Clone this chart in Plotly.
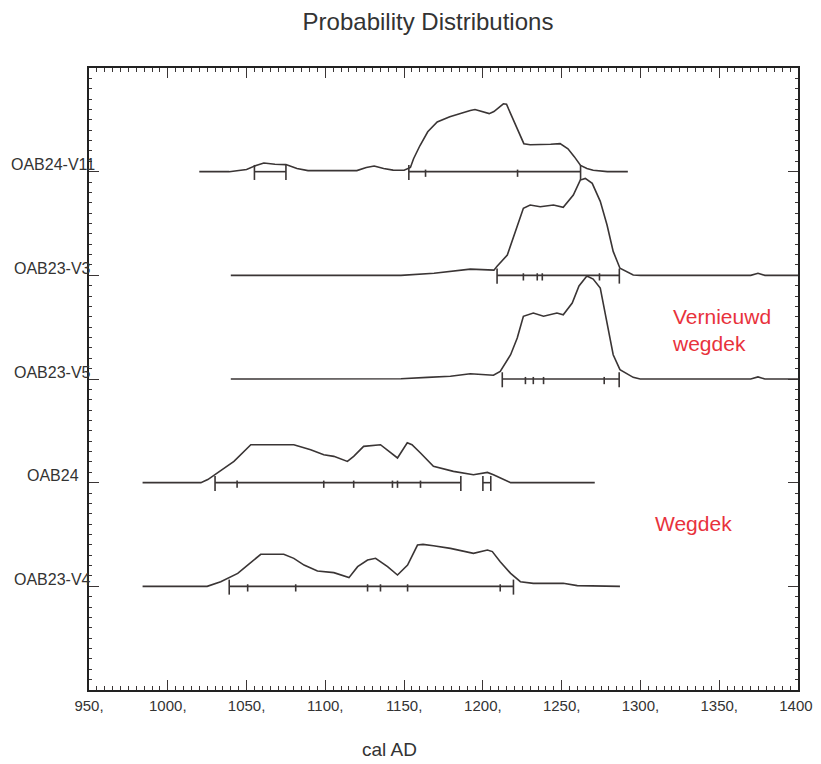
import plotly.graph_objects as go

# ---------------- data ----------------
samples = ["OAB23-V4", "OAB24", "OAB23-V5", "OAB23-V3", "OAB24-V11"]  # bottom -> top
row_pos = [1, 2, 3, 4, 5]

# probability curves: year, relative height (fraction of row spacing)
v11_years = [1020, 1039, 1050, 1056, 1061, 1068, 1075, 1082, 1089, 1120, 1126, 1131, 1137, 1143,
             1150, 1154, 1156, 1160, 1165, 1171, 1179, 1185, 1192, 1195, 1200, 1204, 1207, 1211,
             1213, 1215, 1221, 1226, 1230, 1236, 1243, 1249, 1254, 1258, 1262, 1266, 1270, 1279, 1292]
v11_prob = [0, 0, 0.02, 0.06, 0.084, 0.072, 0.068, 0.03, 0.01, 0.01, 0.04, 0.055, 0.03, 0.015,
            0.013, 0.04, 0.125, 0.25, 0.385, 0.48, 0.53, 0.56, 0.59, 0.60, 0.58, 0.56, 0.58, 0.63,
            0.655, 0.65, 0.445, 0.27, 0.26, 0.26, 0.265, 0.27, 0.22, 0.145, 0.06, 0.03, 0.013, 0, 0]

v3_years = [1040, 1148, 1169, 1192, 1207, 1209, 1215.5, 1220.6, 1225.7, 1230, 1236.4, 1244.8, 1251,
            1257.4, 1261.8, 1265, 1269.4, 1274.5, 1278.8, 1282.7, 1287, 1295.4, 1300, 1370, 1374.6,
            1379, 1400]
v3_prob = [0, 0, 0.02, 0.06, 0.05, 0.087, 0.196, 0.424, 0.646, 0.678, 0.662, 0.678, 0.656,
           0.774, 0.919, 0.935, 0.887, 0.714, 0.485, 0.231, 0.068, 0.003, 0, 0, 0.02,
           0, 0]

v5_years = [1040, 1148, 1164.8, 1179.4, 1192, 1206.7, 1211, 1217.6, 1221.8, 1225.7, 1232, 1238.5,
            1247, 1251, 1256.7, 1261, 1266, 1270, 1274.5, 1278.8, 1282.7, 1287, 1295.4, 1299.8,
            1370, 1374.6, 1379, 1400]
v5_prob = [0, 0.003, 0.016, 0.026, 0.051, 0.036, 0.074, 0.234, 0.395, 0.605, 0.636, 0.605,
           0.636, 0.62, 0.733, 0.897, 0.993, 0.964, 0.878, 0.559, 0.234, 0.09, 0.016, 0,
           0, 0.02, 0, 0]

oab24_years = [984, 1021, 1025.4, 1031.7, 1042, 1052.7, 1080, 1090.7, 1099, 1105.4, 1114, 1118,
               1124.3, 1135, 1145.8, 1152, 1155, 1160.4, 1168.6, 1181.3, 1194, 1202.9, 1206.7,
               1217.6, 1271]
oab24_prob = [0, 0, 0.03, 0.094, 0.205, 0.366, 0.366, 0.318, 0.27, 0.254, 0.205, 0.254,
              0.35, 0.366, 0.238, 0.385, 0.366, 0.286, 0.157, 0.109, 0.077, 0.099, 0.077,
              0, 0]

v4_years = [984, 1025, 1033.6, 1044.4, 1050.7, 1059, 1073.6, 1080, 1086.5, 1095, 1105.4, 1115,
            1120.5, 1126.8, 1131.9, 1139.5, 1145.8, 1152.2, 1158.5, 1162, 1168.6, 1179.4, 1194,
            1202.9, 1206, 1211, 1217.6, 1223.8, 1232, 1251, 1259.9, 1287]
v4_prob = [0, 0, 0.045, 0.125, 0.205, 0.309, 0.309, 0.27, 0.205, 0.148, 0.132, 0.084,
           0.19, 0.254, 0.27, 0.19, 0.109, 0.205, 0.398, 0.405, 0.392, 0.366, 0.318,
           0.35, 0.335, 0.238, 0.125, 0.045, 0.029, 0.029, 0.007, 0]

curve_years = [v4_years, oab24_years, v5_years, v3_years, v11_years]
curve_probs = [v4_prob, oab24_prob, v5_prob, v3_prob, v11_prob]

# highest-density ranges (start, end) and intermediate range marks
v4_ranges = [(1039, 1219.4)]
v4_marks = [1050.7, 1081.2, 1126.8, 1135, 1152.2, 1211]
oab24_ranges = [(1030, 1186), (1200, 1205)]
oab24_marks = [1044, 1099, 1118, 1142.6, 1145.8, 1160.4]
v5_ranges = [(1212.3, 1286.5)]
v5_marks = [1227, 1232, 1238.5, 1277]
v3_ranges = [(1209, 1286.6)]
v3_marks = [1225.7, 1234.5, 1237.7, 1274]
v11_ranges = [(1055, 1075), (1153, 1262)]
v11_marks = [1163.6, 1222]

all_ranges = [v4_ranges, oab24_ranges, v5_ranges, v3_ranges, v11_ranges]
all_marks = [v4_marks, oab24_marks, v5_marks, v3_marks, v11_marks]

x_ticks = list(range(950, 1401, 50))
x_tick_labels = [f"{v}," for v in x_ticks]

group_labels = ["Vernieuwd<br>wegdek", "Wegdek"]

# ---------------- figure ----------------
LINE = "#3a3535"
TXT = "#333333"
SANS = "Liberation Sans, Arial, sans-serif"

# the page body adds an 8px margin at top/left; the figure is sized/offset to compensate
W, H = 813, 756

fig = go.Figure()

for base, xs, ps in zip(row_pos, curve_years, curve_probs):
    fig.add_trace(go.Scatter(x=xs, y=[base + p for p in ps], mode="lines",
                             line=dict(color=LINE, width=1.6), hoverinfo="skip", showlegend=False))

TALL_UP, TALL_DN = 0.065, 0.08
SM_UP, SM_DN = 0.02, 0.05
for base, rngs, marks in zip(row_pos, all_ranges, all_marks):
    xs, ys = [], []
    for a, b in rngs:
        xs += [a, b, None]
        ys += [base, base, None]
        for e in (a, b):
            xs += [e, e, None]
            ys += [base + TALL_UP, base - TALL_DN, None]
    for m in marks:
        xs += [m, m, None]
        ys += [base + SM_UP, base - SM_DN, None]
    fig.add_trace(go.Scatter(x=xs, y=ys, mode="lines", line=dict(color=LINE, width=1.6),
                             hoverinfo="skip", showlegend=False))

annotations = []
for base, name in zip(row_pos, samples):
    annotations.append(dict(xref="paper", yref="y", x=-0.0508, y=base, text=name,
                            xanchor="center", yanchor="middle", yshift=7, showarrow=False,
                            font=dict(family=SANS, size=16, color=TXT)))

annotations.append(dict(xref="paper", yref="y", x=(670 - 89) / 709, y=3.47, text=group_labels[0],
                        xanchor="left", yanchor="middle", align="left", showarrow=False,
                        font=dict(family=SANS, size=21, color="#e8323c")))
annotations.append(dict(xref="paper", yref="y", x=(693 - 89) / 709, y=1.61, text=group_labels[1],
                        xanchor="center", yanchor="middle", showarrow=False,
                        font=dict(family=SANS, size=21, color="#e8323c")))
annotations.append(dict(xref="paper", yref="paper", x=(389 - 89) / 709, y=-59 / 622, text="cal AD",
                        xanchor="center", yanchor="middle", showarrow=False,
                        font=dict(family=SANS, size=19, color=TXT)))

fig.update_layout(
    width=W, height=H,
    margin=dict(l=81, r=23, t=60, b=74, autoexpand=False),
    paper_bgcolor="white", plot_bgcolor="white",
    title=dict(text="Probability Distributions", x=420 / W, xanchor="center",
               y=1 - 14 / H, yanchor="middle", font=dict(family=SANS, size=24, color=TXT)),
    annotations=annotations,
    xaxis=dict(range=[950, 1400], tickvals=x_ticks, ticktext=x_tick_labels,
               ticks="inside", ticklen=10, tickwidth=1.2, tickcolor=LINE,
               minor=dict(dtick=5, tick0=950, ticks="inside", ticklen=4, tickwidth=1, tickcolor=LINE),
               showline=True, linecolor="#222", linewidth=1.6, mirror="allticks",
               showgrid=False, zeroline=False, ticklabelstandoff=1, automargin=False,
               tickfont=dict(family=SANS, size=15, color=TXT)),
    yaxis=dict(range=[0, 6], tickvals=row_pos, showticklabels=False, automargin=False,
               ticks="inside", ticklen=10, tickwidth=1.2, tickcolor=LINE,
               minor=dict(dtick=0.1, tick0=0, ticks="inside", ticklen=3, tickwidth=1, tickcolor=LINE),
               showline=True, linecolor="#222", linewidth=1.6, mirror="allticks",
               showgrid=False, zeroline=False),
)

fig.write_html("out.html")
